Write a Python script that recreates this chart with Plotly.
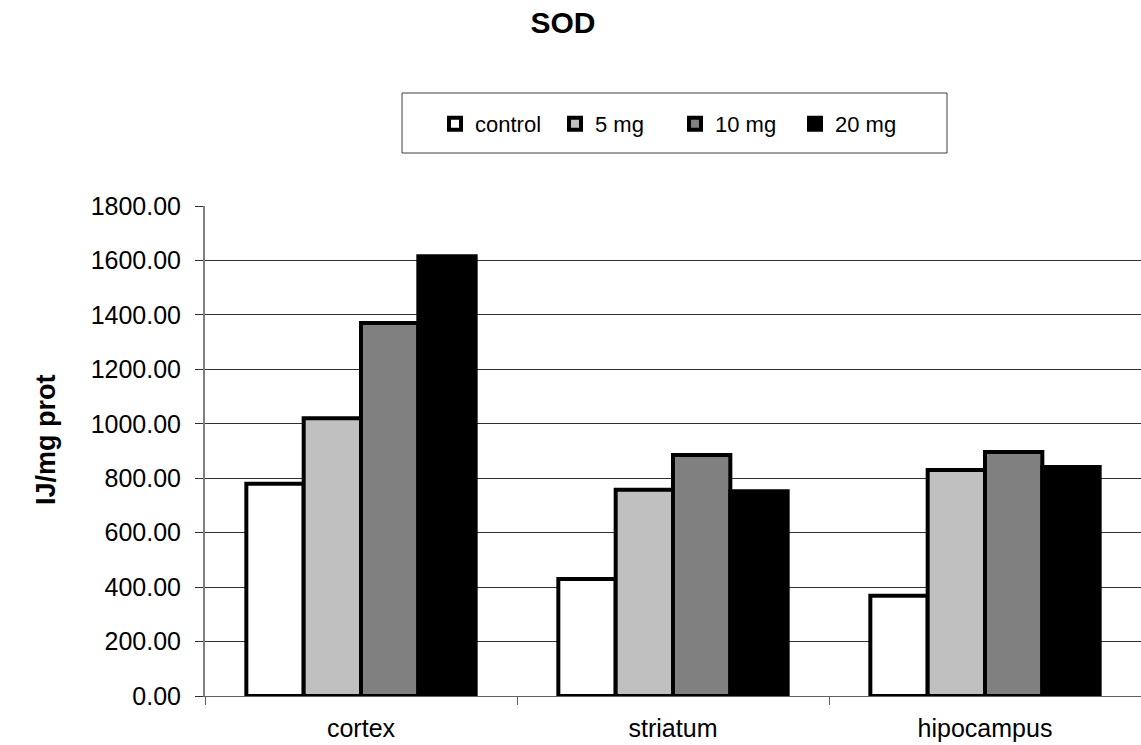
import plotly.graph_objects as go

# SOD activity by brain region and dose
regions = ["cortex", "striatum", "hipocampus"]
series_names = ["control", "5 mg", "10 mg", "20 mg"]
control = [780, 430, 368]
mg5 = [1020, 758, 830]
mg10 = [1370, 885, 896]
mg20 = [1615, 752, 841]
y_ticks = [0, 200, 400, 600, 800, 1000, 1200, 1400, 1600, 1800]
y_tick_labels = ["0.00", "200.00", "400.00", "600.00", "800.00", "1000.00",
                 "1200.00", "1400.00", "1600.00", "1800.00"]

fills = ["#ffffff", "#c0c0c0", "#808080", "#000000"]
values = [control, mg5, mg10, mg20]

FONT = "Liberation Sans, Arial, sans-serif"

# plot area in pixels
L, T, B, W, H = 205, 206, 49, 936, 490

fig = go.Figure()
for name, vals, col in zip(series_names, values, fills):
    fig.add_trace(go.Bar(
        x=regions, y=vals, name=name,
        marker=dict(color=col, line=dict(color="#000000", width=4)),
    ))

fig.update_layout(
    width=1141, height=745,
    paper_bgcolor="white", plot_bgcolor="white",
    margin=dict(l=L, r=0, t=T, b=B),
    barmode="group", bargap=0.265, bargroupgap=0,
    font=dict(family=FONT, size=25, color="#000000"),
    title=dict(text="<b>SOD</b>", x=563 / 1141, xanchor="center",
               y=1 - 22 / 745, yanchor="middle",
               font=dict(family=FONT, size=30, color="#000000")),
    showlegend=True,
    legend=dict(orientation="h", x=(435 - L) / W, xanchor="left",
                y=(T + H - 124) / H, yanchor="middle",
                bgcolor="rgba(0,0,0,0)", borderwidth=0,
                font=dict(family=FONT, size=22, color="#000000"),
                entrywidth=75, entrywidthmode="pixels",
                itemclick=False),
    xaxis=dict(showgrid=False, showline=True, linecolor="#606060", linewidth=1,
               ticks="outside", tickson="boundaries", ticklen=8,
               tickcolor="#606060", ticklabelstandoff=10,
               tickfont=dict(size=25, family=FONT)),
    yaxis=dict(range=[0, 1800], tickvals=y_ticks, ticktext=y_tick_labels,
               showgrid=True, gridcolor="#303030", gridwidth=1,
               showline=True, linecolor="#808080", linewidth=2,
               ticks="outside", ticklen=8, tickcolor="#303030",
               ticklabelstandoff=9,
               tickfont=dict(size=25, family=FONT), zeroline=False),
    annotations=[dict(text="<b>IJ/mg prot</b>", textangle=-90,
                      xref="paper", yref="paper",
                      x=(46 - L) / W, y=(T + H - 440) / H,
                      xanchor="center", yanchor="middle", showarrow=False,
                      font=dict(family=FONT, size=27, color="#000000"))],
    shapes=[dict(type="rect", xref="paper", yref="paper",
                 x0=(402 - L) / W, x1=(947 - L) / W,
                 y0=(T + H - 153) / H, y1=(T + H - 93) / H,
                 line=dict(color="#404040", width=1), fillcolor="rgba(0,0,0,0)")],
)

fig.write_html("out.html")
